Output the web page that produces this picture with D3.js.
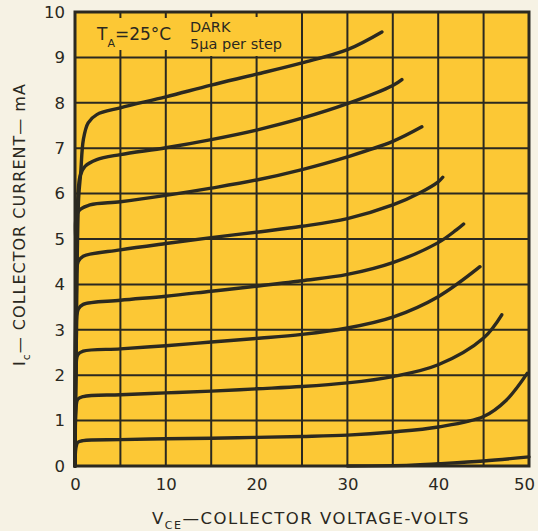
<!DOCTYPE html>
<html><head><meta charset="utf-8">
<script src="https://cdn.jsdelivr.net/npm/d3@7"></script>
<style>
html,body{margin:0;padding:0;background:#f6f2e4;}
svg{display:block;}
text{font-family:"DejaVu Sans",sans-serif;fill:#2a2820;}
</style></head><body>
<script>
// ---- data ----
const xTicks = [0, 10, 20, 30, 40, 50];
const yTicks = [0, 1, 2, 3, 4, 5, 6, 7, 8, 9, 10];
const xGrid = [5, 10, 15, 20, 25, 30, 35, 40, 45];
const yGrid = [1, 2, 3, 4, 5, 6, 7, 8, 9];
// collector curves, one per 5 µA base step (V_CE volts, I_C mA)
const curve35 = [[0,0],[0.15,3],[0.4,5.9],[0.63,6.46],[0.92,7.19],[1.45,7.56],[2.4,7.74],[5,7.89],[10,8.13],[15,8.39],[20,8.63],[25,8.88],[30,9.17],[33.8,9.56]];
const curve30 = [[0,0],[0.2,5],[0.55,6.38],[1.1,6.6],[2.4,6.75],[5,6.86],[10,7.01],[15,7.19],[20,7.4],[25,7.66],[30,7.98],[35,8.38],[36,8.51]];
const curve25 = [[0,0],[0.15,4.5],[0.35,5.6],[1.65,5.75],[5,5.82],[10,5.96],[15,6.12],[20,6.3],[25,6.53],[30,6.81],[35,7.15],[38.2,7.47]];
const curve20 = [[0,0],[0.15,3.8],[0.35,4.5],[0.9,4.62],[5,4.76],[10,4.9],[15,5.03],[20,5.15],[25,5.28],[30,5.45],[35,5.75],[38,6.02],[40,6.26],[40.5,6.36]];
const curve15 = [[0,0],[0.15,2.8],[0.35,3.45],[0.9,3.56],[5,3.65],[10,3.74],[15,3.85],[20,3.96],[25,4.08],[30,4.22],[35,4.48],[40,4.92],[42,5.2],[42.8,5.33]];
const curve10 = [[0,0],[0.12,2.0],[0.3,2.45],[0.9,2.53],[5,2.58],[10,2.65],[15,2.73],[20,2.81],[25,2.9],[30,3.04],[35,3.28],[40,3.73],[44.6,4.39]];
const curve5  = [[0,0],[0.1,1.2],[0.3,1.47],[0.9,1.53],[5,1.57],[10,1.61],[15,1.65],[20,1.7],[25,1.75],[30,1.83],[35,1.97],[40,2.23],[45,2.82],[47,3.33]];
const curve0  = [[0,0],[0.1,0.4],[0.3,0.52],[0.9,0.56],[5,0.58],[10,0.6],[15,0.61],[20,0.63],[25,0.65],[30,0.68],[35,0.75],[40,0.86],[45,1.09],[47.5,1.45],[49.8,2.04]];
const curveDark = [[30,0],[37,0.02],[40,0.05],[45,0.11],[50,0.2]];
const curves = [curve35, curve30, curve25, curve20, curve15, curve10, curve5, curve0, curveDark];

const W = 538, H = 531;
const pL = 75, pR = 529, pT = 12, pB = 466;
const ink = "#2b2920", yellow = "#fcc835";

const svg = d3.select("body").append("svg").attr("width", W).attr("height", H);
const x = d3.scaleLinear().domain([0, 50]).range([pL, pR]);
const y = d3.scaleLinear().domain([0, 10]).range([pB, pT]);

svg.append("rect").attr("x", pL).attr("y", pT).attr("width", pR-pL).attr("height", pB-pT).attr("fill", yellow);

// grid
svg.append("g").selectAll("line").data(xGrid).join("line")
  .attr("x1", d => x(d)).attr("x2", d => x(d)).attr("y1", pT).attr("y2", pB)
  .attr("stroke", ink).attr("stroke-width", 2);
svg.append("g").selectAll("line").data(yGrid).join("line")
  .attr("y1", d => y(d)).attr("y2", d => y(d)).attr("x1", pL).attr("x2", pR)
  .attr("stroke", ink).attr("stroke-width", 2);

// masks behind annotation text
svg.append("rect").attr("x", 95).attr("y", 18).attr("width", 78).attr("height", 32).attr("fill", yellow);
svg.append("rect").attr("x", 180).attr("y", 17).attr("width", 117).attr("height", 39).attr("fill", yellow);

// curves
const line = d3.line().x(d => x(d[0])).y(d => y(d[1])).curve(d3.curveCatmullRom.alpha(0.5));
svg.append("g").selectAll("path").data(curves).join("path")
  .attr("d", line).attr("fill", "none").attr("stroke", ink)
  .attr("stroke-width", 3.4).attr("stroke-linecap", "round");

// frame
svg.append("rect").attr("x", pL).attr("y", pT).attr("width", pR-pL).attr("height", pB-pT)
  .attr("fill", "none").attr("stroke", ink).attr("stroke-width", 3);

// axes (labels only)
const xAxis = svg.append("g").attr("transform", `translate(0,${pB})`)
  .call(d3.axisBottom(x).tickValues(xTicks).tickSize(0).tickPadding(12));
const yAxis = svg.append("g").attr("transform", `translate(${pL},0)`)
  .call(d3.axisLeft(y).tickValues(yTicks).tickSize(0).tickPadding(10));
[xAxis, yAxis].forEach(g => {
  g.select(".domain").remove();
  g.selectAll("text").attr("font-size", 16.5).attr("font-family", "DejaVu Sans").attr("fill", ink);
});
xAxis.selectAll("text").filter(d => d === 50).attr("dx", -5);

// annotations
const ann = svg.append("text").attr("x", 97).attr("y", 40).attr("font-size", 17);
ann.append("tspan").text("T");
ann.append("tspan").attr("font-size", 11).attr("dy", 7).text("A");
ann.append("tspan").attr("dy", -7).text("=25°C");
svg.append("text").attr("x", 190).attr("y", 32).attr("font-size", 14.5).text("DARK");
svg.append("text").attr("x", 190).attr("y", 49).attr("font-size", 14.5).text("5µa per step");

// axis titles
const xt = svg.append("text").attr("x", 152).attr("y", 524).attr("font-size", 16.5).attr("letter-spacing", 1.5);
xt.append("tspan").text("V");
xt.append("tspan").attr("font-size", 11).attr("dy", 5).text("CE");
xt.append("tspan").attr("dy", -5).text("—COLLECTOR VOLTAGE-VOLTS");

const yt = svg.append("text").attr("transform", "translate(25,366) rotate(-90)").attr("font-size", 16).attr("letter-spacing", 1);
yt.append("tspan").text("I");
yt.append("tspan").attr("font-size", 11).attr("dy", 5).text("c");
yt.append("tspan").attr("dy", -5).text("— COLLECTOR CURRENT— mA");
</script>
</body></html>
